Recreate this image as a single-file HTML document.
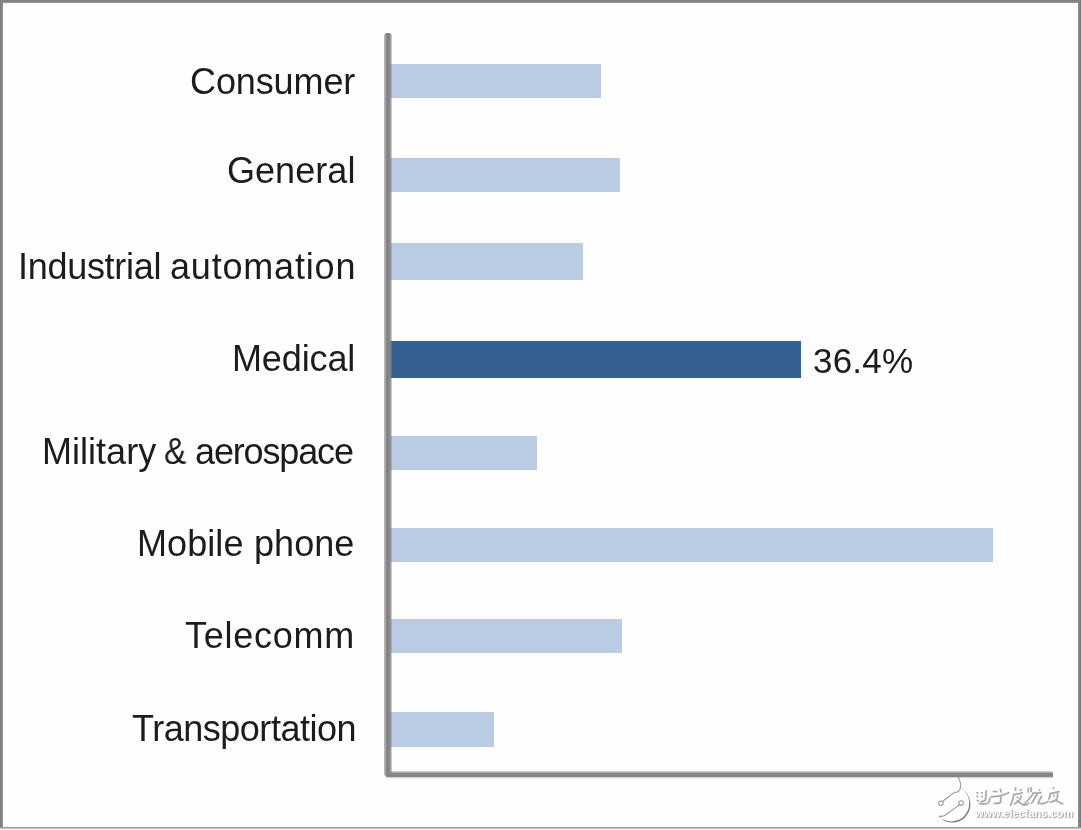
<!DOCTYPE html>
<html>
<head>
<meta charset="utf-8">
<title>Chart</title>
<style>
  html, body { margin: 0; padding: 0; }
  body {
    width: 1081px; height: 830px; overflow: hidden;
    background: #fefefe;
    font-family: "Liberation Sans", sans-serif;
    color: #1c1c1c;
  }
  #stage { position: relative; width: 1081px; height: 830px; overflow: hidden; background: #fefefe; }
  .abs { position: absolute; }
  /* outer frame */
  .b-top { left: 0; top: 0; width: 1081px; height: 3px; background: linear-gradient(to bottom, #7f7f7f 0 1px, #898989 1px 2px, #909090 2px 3px); }
  .b-left { left: 0; top: 0; width: 3px; height: 829px; background: linear-gradient(to right, #7f7f7f 0 1px, #868686 1px 2px, #8b8b8b 2px 3px); }
  .b-right { left: 1078px; top: 0; width: 3px; height: 829px; background: linear-gradient(to right, #8b8b8b 0 1px, #848484 1px 2px, #787878 2px 3px); }
  .b-bot { left: 0; top: 827px; width: 1081px; height: 3px; background: linear-gradient(to bottom, #9c9c9c 0 1px, #c4c4c4 1px 2px, #f2f2f2 2px 3px); }
  /* axes */
  .ax-v { left: 384px; top: 33px; width: 8px; height: 744px; border-radius: 3px 3px 0 4px;
    background: linear-gradient(to right, #b6b6b6 0 1px, #a4a4a4 1px 2px, #878787 2px 3px, #848484 3px 5px, #898989 5px 6px, rgba(133,133,133,.78) 6px 7px, rgba(133,133,133,.45) 7px 8px); }
  .ax-h { left: 386px; top: 771px; width: 667px; height: 8px; border-radius: 0 2px 2px 4px;
    background: linear-gradient(to bottom, #d2d2d2 0 1px, #a8a8a8 1px 2px, #858585 2px 6px, #d6d6d6 6px 7px, #f1f1f1 7px 8px); }
  /* bars */
  .bar { position: absolute; left: 390px; background: #b9cce4; }
  .bar.dark { background: #36608f; }
  /* labels */
  .lbl { position: absolute; white-space: nowrap; font-size: 36px; line-height: 40px; }
  .lbl, .val, #wmurl { will-change: transform; }
  .val { position: absolute; white-space: nowrap; font-size: 35px; line-height: 40px; }
</style>
</head>
<body>
<div id="stage">
  <div class="abs b-top"></div>
  <div class="abs b-left"></div>
  <div class="abs b-right"></div>
  <div class="abs b-bot"></div>

  <div class="bar" style="top:64px; height:34px; width:211px;"></div>
  <div class="bar" style="top:158px; height:34px; width:230px;"></div>
  <div class="bar" style="top:243px; height:37px; width:193px;"></div>
  <div class="bar dark" style="top:341px; height:37px; width:411px;"></div>
  <div class="bar" style="top:436px; height:34px; width:147px;"></div>
  <div class="bar" style="top:528px; height:34px; width:603px;"></div>
  <div class="bar" style="top:619px; height:34px; width:232px;"></div>
  <div class="bar" style="top:712px; height:35px; width:104px;"></div>

  <div class="abs ax-h"></div>
  <div class="abs ax-v"></div>

  <div class="lbl" id="w1" style="left:190.2px; top:62px; letter-spacing:-0.11px;">Consumer</div>
  <div class="lbl" id="w2" style="left:227.2px; top:151px; letter-spacing:0.05px;">General</div>
  <div class="lbl" id="w3a" style="left:18.4px; top:247px; letter-spacing:-0.29px;">Industrial</div>
  <div class="lbl" id="w3b" style="left:170.2px; top:247px; letter-spacing:0.81px;">automation</div>
  <div class="lbl" id="w4" style="left:232.1px; top:339px; letter-spacing:-0.12px;">Medical</div>
  <div class="lbl" id="w5a" style="left:41.7px; top:432px; letter-spacing:0.02px;">Military</div>
  <div class="lbl" id="w5b" style="left:164.3px; top:432px; transform: scaleX(0.93); transform-origin: 0 50%;">&amp;</div>
  <div class="lbl" id="w5c" style="left:195.0px; top:432px; letter-spacing:-1.14px;">aerospace</div>
  <div class="lbl" id="w6a" style="left:136.7px; top:524px; letter-spacing:0.07px;">Mobile</div>
  <div class="lbl" id="w6b" style="left:254.2px; top:524px; letter-spacing:0.05px;">phone</div>
  <div class="lbl" id="w7" style="left:185.3px; top:616px; letter-spacing:0.74px;">Telecomm</div>
  <div class="lbl" id="w8" style="left:132.4px; top:709px; letter-spacing:-0.48px;">Transportation</div>
  <div class="val" id="v1" style="left:812.8px; top:341px; letter-spacing:0.19px;">36.4%</div>

  <!-- watermark -->
  <svg class="abs" id="wm" style="left:0; top:0;" width="1081" height="830" viewBox="0 0 1081 830">
    <defs>
      <filter id="sh" x="-20%" y="-20%" width="150%" height="150%">
        <feGaussianBlur stdDeviation="0.55"/>
      </filter>
      <filter id="sh2" x="-20%" y="-20%" width="150%" height="150%">
        <feGaussianBlur stdDeviation="0.45"/>
      </filter>
    </defs>
    <!-- logo drop: shadow crescent -->
    <g filter="url(#sh)">
      <circle cx="952.2" cy="804.4" r="18.2" fill="#787878"/>
    </g>
    <circle cx="951.1" cy="803.3" r="18.2" fill="#fefefe"/>
    <!-- logo inner lines -->
    <g fill="none" stroke="#939393" stroke-width="1.05" stroke-linecap="round" stroke-linejoin="round" filter="url(#sh2)" opacity="0.95">
      <path d="M958.4 777.2 C959.6 780 961 783 960.6 786.6 C960.2 789.6 958.8 791.4 957.4 791.9 C956.2 792.4 955.2 792 954.4 792.3 L942.6 801.5"/>
      <circle cx="940.9" cy="803.2" r="2.3"/>
      <circle cx="961.1" cy="803.1" r="2.3"/>
      <path d="M959.3 804.8 L945.4 815 C943.6 816.3 941.6 816.6 939.4 816.2"/>
    </g>
    <!-- chinese glyph shadows (approximate) -->
    <g fill="none" stroke="#a0a0a0" stroke-width="1.75" stroke-linecap="round" stroke-linejoin="round" filter="url(#sh)" opacity="0.9">
      <!-- dian -->
      <path d="M986.2 790.8 L985.6 799.2 C985 801 983 801.6 981 801.7"/>
      <path d="M979.6 803.4 C983 804.4 987.4 804 988.6 802.6 C989.6 801.4 989.9 799.8 990 798.4"/>
      <path d="M977 792.8 h0.6 M981.7 792.8 h0.6 M977 796.4 h0.6 M981.7 796.4 h0.6 M977.4 801 l0.8 -0.6"/>
      <!-- zi -->
      <path d="M993.4 791.5 L996.8 791.7"/>
      <path d="M1000.4 789.3 L1001 791.8"/>
      <path d="M991.2 796.8 C995 796.6 998 796.2 1001 795.6 C1004 794.9 1006.6 794 1008.8 792.8"/>
      <path d="M1001 796.8 L1000.6 801.8 C1000 803.2 997 803.6 994.4 803.4"/>
      <!-- fa -->
      <path d="M1015.5 787.8 L1015.5 790.2"/>
      <path d="M1020.4 789.8 l0.5 0.5"/>
      <path d="M1013.4 794.5 C1016.5 794.2 1019.5 793.6 1022.4 792.8"/>
      <path d="M1013.8 794.8 C1013.2 798.5 1012 802.4 1010.5 805.4"/>
      <path d="M1017.2 797.2 l0.4 0.3"/>
      <path d="M1021 796.1 C1020.8 798 1020.2 799.2 1019.4 800 C1018 801.6 1016.2 803 1014.4 803.9"/>
      <path d="M1017.2 801 C1019.4 802.6 1021.6 804.2 1023.8 805 C1025.6 805.4 1027.4 804.6 1028.8 803.3"/>
      <!-- shao -->
      <path d="M1028.3 788.4 L1028.3 792"/>
      <path d="M1031.1 787.9 L1031.1 791.4"/>
      <path d="M1033.3 792.8 C1032.6 794.6 1031.4 796.4 1030 797.8 C1028 800.4 1025.6 803 1023.4 805"/>
      <path d="M1039.4 790 l0.4 0.4"/>
      <path d="M1034 793 L1041 792.8"/>
      <path d="M1037.2 794 C1035.6 797.2 1033.6 800.4 1031.6 803.2"/>
      <path d="M1041.6 796.2 C1040.6 798.4 1039.4 800.4 1038.3 802.2"/>
      <path d="M1038.3 803.4 C1040.4 803.8 1042.4 803.8 1043.8 803.4 C1045.4 803 1047 802.4 1048.3 801.6"/>
      <!-- you -->
      <path d="M1053.3 787.8 l0.3 0.6"/>
      <path d="M1050.6 793.4 C1053.4 793 1056.2 792.4 1058.8 791.6"/>
      <path d="M1050.5 794 C1050.2 795.8 1049.6 797.4 1048.8 798.9"/>
      <path d="M1053.8 795.5 l0.4 0.3"/>
      <path d="M1057.7 793.9 C1057.8 796 1057.4 797.8 1056.6 799.4 C1055.2 801 1053 801.8 1050.5 802.2"/>
      <path d="M1056 800.5 C1058.2 801.8 1060.4 803 1062.7 803.9"/>
    </g>
  </svg>
  <div class="abs" id="wmurl" style="left:974.5px; top:806px; font: bold 11px/14px 'Liberation Sans', sans-serif; color:#fefefe; text-shadow: 1px 1px 1.2px rgba(0,0,0,.42), 0px 0px 1px rgba(0,0,0,.18); white-space:nowrap;">www.elecfans.com</div>
</div>
</body>
</html>
